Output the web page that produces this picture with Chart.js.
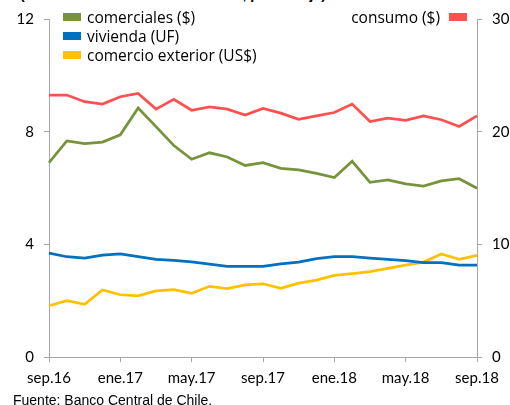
<!DOCTYPE html>
<html lang="es">
<head>
  <meta charset="UTF-8" />
  <title>Colocaciones</title>
  <script src="https://cdn.jsdelivr.net/npm/chart.js"></script>
  <style>
    body { margin: 0; width: 510px; height: 405px; overflow: hidden; background: #fff; position: relative; font-family: Lato, "Open Sans", sans-serif; }
    #chart { position: absolute; left: 0; top: 0; }
    .title { position: absolute; left: 20px; top: -14px; font: bold 14px "Liberation Sans", Arial, sans-serif; white-space: nowrap; }
    .leg { position: absolute; font-family: "Open Sans", sans-serif; font-size: 15.5px; line-height: 19px; white-space: nowrap; color: #000; }
    .sw { position: absolute; width: 18px; height: 8px; }
    .source { position: absolute; left: 13px; top: 392px; font: 14px "Liberation Sans", Arial, sans-serif; white-space: nowrap; }
  </style>
</head>
<body>
  <div class="title">(variación real anual en 12 meses, porcentaje)</div>
  <canvas id="chart" width="510" height="405"></canvas>

  <div class="sw" style="left:63px; top:13px; background:#77933c"></div>
  <div class="leg" style="left:87px; top:8px">comerciales ($)</div>
  <div class="sw" style="left:63px; top:32px; background:#0070c0"></div>
  <div class="leg" style="left:87px; top:27px">vivienda (UF)</div>
  <div class="sw" style="left:63px; top:51px; background:#ffc000"></div>
  <div class="leg" style="left:87px; top:46px">comercio exterior (US$)</div>
  <div class="leg" style="right:70px; top:8px">consumo ($)</div>
  <div class="sw" style="left:449px; top:13px; background:#ff5050"></div>

  <div class="source">Fuente: Banco Central de Chile.</div>

  <script>
    const months = ['sep.16', 'oct.16', 'nov.16', 'dic.16', 'ene.17', 'feb.17', 'mar.17', 'abr.17',
      'may.17', 'jun.17', 'jul.17', 'ago.17', 'sep.17', 'oct.17', 'nov.17', 'dic.17', 'ene.18',
      'feb.18', 'mar.18', 'abr.18', 'may.18', 'jun.18', 'jul.18', 'ago.18', 'sep.18'];

    // left axis
    const comerciales = [6.9, 7.67, 7.58, 7.63, 7.89, 8.84, 8.18, 7.51, 7.02, 7.25, 7.1, 6.8, 6.9,
      6.7, 6.64, 6.52, 6.37, 6.95, 6.2, 6.29, 6.15, 6.07, 6.25, 6.33, 5.99];
    const vivienda = [3.69, 3.56, 3.51, 3.62, 3.66, 3.56, 3.47, 3.43, 3.38, 3.3, 3.22, 3.22, 3.22,
      3.31, 3.37, 3.49, 3.56, 3.56, 3.51, 3.47, 3.42, 3.35, 3.35, 3.26, 3.26];
    const comercioExterior = [1.82, 2.0, 1.87, 2.38, 2.21, 2.17, 2.35, 2.39, 2.26, 2.51, 2.43, 2.56, 2.6,
      2.44, 2.62, 2.73, 2.9, 2.96, 3.03, 3.15, 3.26, 3.37, 3.66, 3.47, 3.61];
    // right axis
    const consumo = [23.25, 23.25, 22.66, 22.45, 23.1, 23.4, 22.0, 22.87, 21.9, 22.2, 22.0, 21.47, 22.07,
      21.65, 21.1, 21.4, 21.7, 22.45, 20.9, 21.2, 21.0, 21.4, 21.06, 20.46, 21.4];

    const leftTicks = [0, 4, 8, 12];
    const rightTicks = [0, 10, 20, 30];

    const axisGray = '#a6a6a6';
    const tickFont = { family: 'Lato', size: 15 };

    function line(label, data, color, axis) {
      return { label, data, borderColor: color, backgroundColor: color, borderWidth: 2.75,
        pointRadius: 0, tension: 0, yAxisID: axis };
    }

    new Chart(document.getElementById('chart'), {
      type: 'line',
      data: {
        labels: months,
        datasets: [
          line('consumo ($)', consumo, '#ff5050', 'y1'),
          line('comerciales ($)', comerciales, '#77933c', 'y'),
          line('vivienda (UF)', vivienda, '#0070c0', 'y'),
          line('comercio exterior (US$)', comercioExterior, '#ffc000', 'y')
        ]
      },
      options: {
        responsive: false,
        animation: false,
        layout: { padding: { top: 19, bottom: 0, left: 0, right: 0 } },
        plugins: { legend: { display: false }, tooltip: { enabled: false } },
        scales: {
          x: {
            offset: false,
            afterFit: s => { s.height = 48; },
            grid: {
              drawOnChartArea: false, tickLength: 5,
              color: c => (c.index % 4 === 0 ? axisGray : 'rgba(0,0,0,0)')
            },
            border: { color: axisGray, width: 1 },
            ticks: {
              autoSkip: false, maxRotation: 0, padding: 7, color: '#000', font: tickFont,
              callback: (v, i) => (i % 4 === 0 ? months[i] : '')
            }
          },
          y: {
            position: 'left', min: 0, max: 12,
            afterFit: s => { s.width = 49; },
            afterBuildTicks: s => { s.ticks = leftTicks.map(v => ({ value: v })); },
            grid: { drawOnChartArea: false, tickLength: 5, color: axisGray },
            border: { color: axisGray, width: 1 },
            ticks: { padding: 10, color: '#000', font: tickFont }
          },
          y1: {
            position: 'right', min: 0, max: 30,
            afterFit: s => { s.width = 33; },
            afterBuildTicks: s => { s.ticks = rightTicks.map(v => ({ value: v })); },
            grid: { drawOnChartArea: false, tickLength: 5, color: axisGray },
            border: { color: axisGray, width: 1 },
            ticks: { padding: 10, color: '#000', font: tickFont }
          }
        }
      }
    });
  </script>
</body>
</html>
